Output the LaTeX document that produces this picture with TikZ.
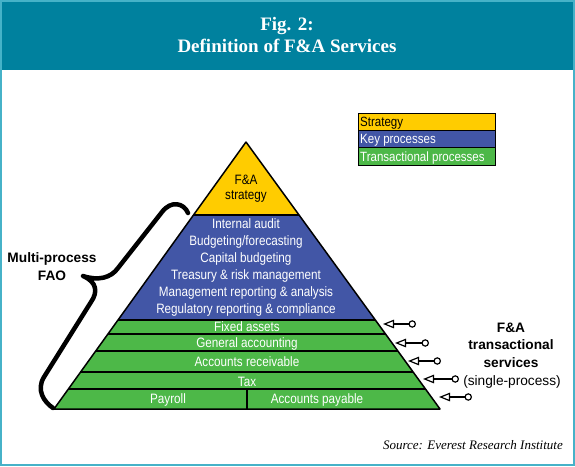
\documentclass[tikz,border=0pt]{standalone}
\usepackage{fontspec}
\setmainfont{Liberation Sans}
\newfontfamily\titlefont{Liberation Serif}
\newfontfamily\narrowfont[FakeStretch=0.86]{Liberation Sans}
\usetikzlibrary{arrows.meta}
\definecolor{headc}{RGB}{0,129,158}
\definecolor{framec}{RGB}{70,178,200}
\definecolor{yelc}{RGB}{255,204,0}
\definecolor{bluc}{RGB}{66,86,166}
\definecolor{grnc}{RGB}{77,184,72}
\begin{document}
\begin{tikzpicture}[x=1pt,y=-1pt,
  lbl/.style={font=\narrowfont\fontsize{13.6}{15}\selectfont, anchor=base, inner sep=0pt},
  wlbl/.style={lbl, text=white},
  leg/.style={font=\narrowfont\fontsize{13.4}{15}\selectfont, anchor=base west, inner sep=0pt},
  big/.style={font=\fontsize{13.7}{16}\selectfont\bfseries, anchor=base, inner sep=0pt},
  sepline/.style={line width=1.8pt},
  ptr/.style={line width=1.4pt,
    {Triangle[open,length=11pt,width=8.5pt,line width=1.2pt]}-{Circle[open,length=7.5pt,line width=1.2pt]}},
  bracestyle/.style={line width=4.5pt, line cap=round, line join=round},
  ttl/.style={font=\titlefont\fontsize{19}{22}\selectfont\bfseries, text=white, anchor=base, inner sep=0pt}]
\useasboundingbox (0,0) rectangle (575,466);
% frame and header
\fill[white] (0,0) rectangle (575,466);
\fill[headc] (0,0) rectangle (575,70);
\draw[framec, line width=2pt] (1,1) rectangle (574,465);
\node[ttl] (t1) at (287,30) {Fig. 2:};
\node[ttl] (t2) at (287,52) {Definition of F\&A Services};
% pyramid
\coordinate (A) at (246,142);
\coordinate (BL) at (54,409);
\coordinate (BR) at (440,409);
\begin{scope}
  \clip (A) -- (BL) -- (BR) -- cycle;
  \fill[yelc] (0,130) rectangle (575,215);
  \fill[bluc] (0,215) rectangle (575,320);
  \fill[grnc] (0,320) rectangle (575,412);
  \draw[line width=1.4pt] (0,215) -- (575,215);
  \draw[sepline] (0,320) -- (575,320);
  \draw[sepline] (0,334) -- (575,334);
  \draw[sepline] (0,351) -- (575,351);
  \draw[sepline] (0,372) -- (575,372);
  \draw[sepline] (0,389) -- (575,389);
  \draw[sepline] (247,389) -- (247,409);
\end{scope}
\draw[line width=1.5pt, line join=round] (A) -- (BL) -- (BR) -- cycle;
% pyramid texts
\node[lbl] (s1) at (246,184.5) {F\&A};
\node[lbl] (s2) at (246,199.5) {strategy};
\node[wlbl] (b1) at (246,228.5) {Internal audit};
\node[wlbl] (b2) at (246,245.5) {Budgeting/forecasting};
\node[wlbl] (b3) at (246,262.5) {Capital budgeting};
\node[wlbl] (b4) at (246,279.5) {Treasury \& risk management};
\node[wlbl] (b5) at (246,296.5) {Management reporting \& analysis};
\node[wlbl] (b6) at (246,313.5) {Regulatory reporting \& compliance};
\node[wlbl] (g1) at (247,331.5) {Fixed assets};
\node[wlbl] (g2) at (247,347.5) {General accounting};
\node[wlbl] (g3) at (247,366.5) {Accounts receivable};
\node[wlbl] (g4) at (247,386) {Tax};
\node[wlbl] (g5) at (168,403.5) {Payroll};
\node[wlbl] (g6) at (317,403.5) {Accounts payable};
% legend
\draw[fill=yelc, line width=0.6pt] (358,113) rectangle (495,130);
\draw[fill=bluc, line width=0.6pt] (358,130) rectangle (495,147);
\draw[fill=grnc, line width=0.6pt] (358,147) rectangle (495,165);
\node[leg] (l1) at (360,126.5) {Strategy};
\node[leg, text=white] (l2) at (360,143.5) {Key processes};
\node[leg, text=white] (l3) at (360,161) {Transactional processes};
% brace
\draw[bracestyle] (188,213) .. controls (184,203) and (171,200) .. (162,212)
  -- (118,268) .. controls (111,278) and (98,281) .. (83,276)
  .. controls (97,282) and (98,292) .. (91,302)
  -- (44,377) .. controls (36,390) and (44,402) .. (53,408);
\node[big] (m1) at (52,262) {Multi-process};
\node[big] (m2) at (52,280) {FAO};
% arrows
\coordinate (p1) at (383,324); \coordinate (q1) at (416,324);
\coordinate (p2) at (395,343); \coordinate (q2) at (429,343);
\coordinate (p3) at (408,361); \coordinate (q3) at (441,361);
\coordinate (p4) at (423,379); \coordinate (q4) at (459,379);
\coordinate (p5) at (439,397); \coordinate (q5) at (472,397);
\foreach \i in {1,...,5} \draw[ptr] (p\i) -- (q\i);
\node[big] (r1) at (511,332) {F\&A};
\node[big] (r2) at (511,349.5) {transactional};
\node[big] (r3) at (511,367) {services};
\node[big, font=\fontsize{13.7}{16}\selectfont] (r4) at (512,385) {(single-process)};
% source
\node[font=\titlefont\fontsize{13}{15}\selectfont\itshape, anchor=base east, inner sep=0pt] (src) at (563,449) {Source: Everest Research Institute};
\end{tikzpicture}
\end{document}
